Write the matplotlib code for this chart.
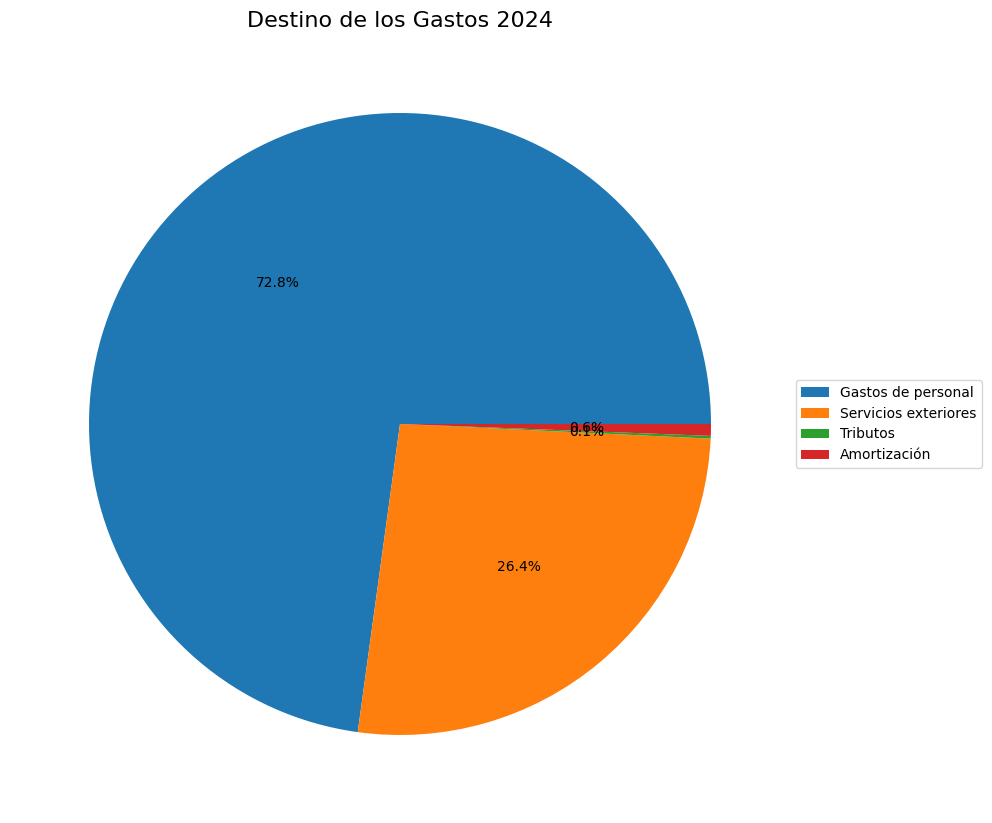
import matplotlib
matplotlib.use("Agg")
import matplotlib.pyplot as plt

categories = ["Gastos de personal", "Servicios exteriores", "Tributos", "Amortización"]
values = [72.83, 26.42, 0.14, 0.61]
title = "Destino de los Gastos 2024"

fig = plt.figure(figsize=(9.92, 8.23), dpi=100)
ax = fig.add_axes([11.25/992, (823-812.75)/823, 777.5/992, 777.5/823])
wedges, texts, autotexts = ax.pie(values, autopct='%1.1f%%')
ax.set_title(title, fontsize=16)
ax.legend(wedges, categories, loc='center left', bbox_to_anchor=(1, 0.5))
fig.savefig("out.png", dpi=100)
